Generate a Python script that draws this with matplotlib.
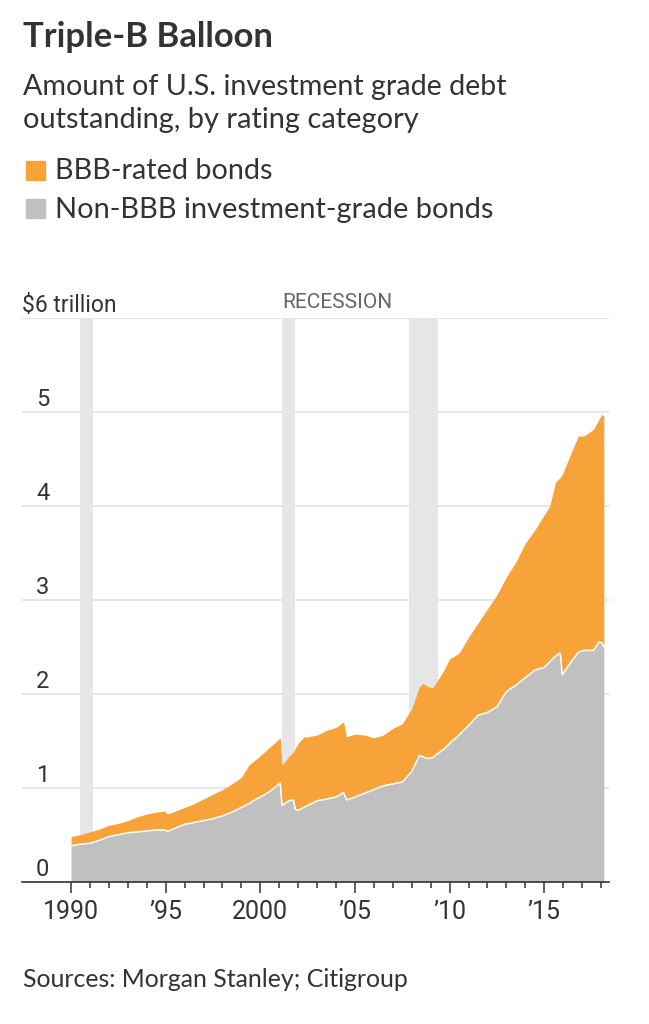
import matplotlib
matplotlib.use("Agg")
import matplotlib.pyplot as plt
from matplotlib import font_manager as fm
from matplotlib.patches import Rectangle
from matplotlib.transforms import offset_copy
import numpy as np

# ---------------- data ----------------
years = [1990.0, 1990.5, 1991.0, 1991.5, 1992.0, 1992.5, 1993.0, 1993.5, 1994.0, 1994.5,
         1994.95, 1995.1, 1995.5, 1996.0, 1996.5, 1997.0, 1997.5, 1998.0, 1998.5, 1999.0,
         1999.4, 1999.7, 2000.0, 2000.5, 2001.05, 2001.15, 2001.5, 2001.75, 2001.85, 2002.0,
         2002.3, 2002.5, 2003.0, 2003.5, 2004.0, 2004.4, 2004.55, 2005.0, 2005.5, 2006.0,
         2006.5, 2007.0, 2007.5, 2008.0, 2008.4, 2008.6, 2008.8, 2009.1, 2009.3, 2009.7,
         2010.0, 2010.5, 2011.0, 2011.5, 2012.0, 2012.5, 2013.0, 2013.5, 2014.0, 2014.5,
         2015.0, 2015.3, 2015.6, 2015.85, 2015.95, 2016.5, 2016.8, 2017.1, 2017.6, 2017.9,
         2018.05, 2018.15]
non_bbb = [0.38, 0.40, 0.41, 0.44, 0.48, 0.50, 0.52, 0.53, 0.54, 0.55,
           0.55, 0.535, 0.57, 0.61, 0.63, 0.65, 0.67, 0.70, 0.74, 0.79,
           0.83, 0.87, 0.90, 0.96, 1.05, 0.81, 0.86, 0.87, 0.77, 0.76,
           0.79, 0.81, 0.86, 0.88, 0.90, 0.95, 0.87, 0.90, 0.94, 0.98,
           1.02, 1.04, 1.06, 1.17, 1.34, 1.33, 1.31, 1.32, 1.35, 1.41,
           1.47, 1.56, 1.66, 1.77, 1.80, 1.86, 2.02, 2.09, 2.17, 2.25,
           2.28, 2.34, 2.40, 2.43, 2.20, 2.36, 2.44, 2.46, 2.46, 2.55,
           2.54, 2.50]
total_ig = [0.48, 0.50, 0.53, 0.56, 0.60, 0.62, 0.65, 0.69, 0.72, 0.74,
            0.75, 0.72, 0.75, 0.79, 0.83, 0.88, 0.93, 0.98, 1.04, 1.11,
            1.24, 1.29, 1.34, 1.43, 1.53, 1.24, 1.33, 1.38, 1.42, 1.47,
            1.54, 1.54, 1.56, 1.61, 1.64, 1.70, 1.54, 1.57, 1.56, 1.53,
            1.56, 1.63, 1.68, 1.84, 2.07, 2.11, 2.08, 2.06, 2.12, 2.25,
            2.37, 2.43, 2.60, 2.75, 2.90, 3.05, 3.24, 3.40, 3.60, 3.74,
            3.90, 4.00, 4.25, 4.30, 4.33, 4.60, 4.74, 4.74, 4.81, 4.92,
            4.97, 4.95]
bbb = [t - n for t, n in zip(total_ig, non_bbb)]

recessions = [(1990.45, 1991.15), (2001.14, 2001.84), (2007.86, 2009.38)]
y_ticks = [0, 1, 2, 3, 4, 5]
y_top = 6
x_major = [1990, 1995, 2000, 2005, 2010, 2015]
x_major_labels = ["1990", "\u201995", "2000", "\u201905", "\u201910", "\u201915"]
x_minor = list(range(1990, 2019))

title = "Triple-B Balloon"
subtitle = ["Amount of U.S. investment grade debt", "outstanding, by rating category"]
legend_labels = ["BBB-rated bonds", "Non-BBB investment-grade bonds"]
source = "Sources: Morgan Stanley; Citigroup"

# ---------------- styling ----------------
ORANGE = "#f8a23a"
GRAY = "#c0c0c0"
REC = "#e6e6e6"
GRID = "#e3e3e3"
TXT = "#333333"

avail = {f.name for f in fm.fontManager.ttflist}
def pick(*names):
    for n in names:
        if n in avail:
            return n
    return "DejaVu Sans"

MAIN = pick("Lato", "Noto Sans", "Open Sans", "DejaVu Sans")
MAINB = MAIN
NARROW = pick("Liberation Sans Narrow", "Roboto", "DejaVu Sans")

W, H = 649, 1024
fig = plt.figure(figsize=(W / 100, H / 100), dpi=100)
renderer = fig.canvas.get_renderer()

def fx(x):
    return x / W

def fy(y):
    return 1 - y / H

def put(text, x, y, size, width=None, **kw):
    t = fig.text(fx(x), fy(y), text, fontsize=size, va="baseline", ha="left", **kw)
    if width is not None:
        w = t.get_window_extent(renderer).width
        t.set_fontsize(size * width / w)
    return t

# axes
ax_l, ax_r, ax_b, ax_t = 21.7, 609.0, 881.7, 317.5
ax = fig.add_axes([fx(ax_l), fy(ax_b), fx(ax_r) - fx(ax_l), fy(ax_t) - fy(ax_b)])
x0 = 1990 - (71 - ax_l) / 18.92
x1 = 2018 + (ax_r - 601) / 18.92
ax.set_xlim(x0, x1)
ax.set_ylim(0, y_top)

for s in ["left", "right", "top"]:
    ax.spines[s].set_visible(False)
ax.spines["bottom"].set_color(TXT)
ax.spines["bottom"].set_linewidth(1.2)
ax.spines["bottom"].set_zorder(6)

ax.set_yticks(y_ticks + [y_top])
ax.set_yticklabels([])
ax.tick_params(axis="y", length=0)
ax.yaxis.grid(True, color=GRID, linewidth=1.2, zorder=0)
ax.set_axisbelow(True)

for a, b in recessions:
    ax.axvspan(a, b, color=REC, zorder=1, linewidth=0)

ax.fill_between(years, 0, non_bbb, color=GRAY, linewidth=0, zorder=2)
ax.fill_between(years, non_bbb, np.array(non_bbb) + np.array(bbb), color=ORANGE,
                linewidth=0, zorder=2)
ax.plot(years, non_bbb, color="white", linewidth=1.1, zorder=3)

ax.set_xticks(x_major)
ax.set_xticklabels(x_major_labels)
ax.set_xticks(x_minor, minor=True)
ax.tick_params(axis="x", which="major", length=8, width=1.1, color=TXT, pad=5,
               labelsize=18, labelcolor=TXT)
ax.tick_params(axis="x", which="minor", length=4.3, width=1.1, color=TXT)
for lab in ax.get_xticklabels():
    lab.set_fontfamily(NARROW)

# y labels: digits above gridlines
ylab_tr = offset_copy(ax.get_yaxis_transform(), fig=fig, x=0, y=6, units="dots")
xfrac = (36 - ax_l) / (ax_r - ax_l)
for v in y_ticks:
    ax.text(xfrac, v, str(v), transform=ylab_tr, fontsize=17, family=NARROW,
            color=TXT, ha="left", va="baseline")
ax.text(0.0, y_top, "$6 trillion", transform=ylab_tr, fontsize=16.5, family=NARROW,
        color=TXT, ha="left", va="baseline")

rec_tr = offset_copy(ax.get_xaxis_transform(), fig=fig, x=0, y=9, units="dots")
tr_ = ax.text(recessions[1][0], 1.0, "RECESSION", transform=rec_tr, fontsize=17,
              family=NARROW, color="#666666", ha="left", va="baseline")
wr = tr_.get_window_extent(renderer).width
tr_.set_fontsize(17 * 110 / wr)

# header texts
put(title, 23, 46.7, 24, width=250, family=MAINB, fontweight="bold", color=TXT)
put(subtitle[0], 23, 95, 18, width=482, family=MAIN, color=TXT)
put(subtitle[1], 23, 127.7, 18, width=395, family=MAIN, color=TXT)

# legend
for i, (lab, col) in enumerate(zip(legend_labels, [ORANGE, GRAY])):
    ytop = [160.7, 199.0][i]
    fig.patches.append(Rectangle((fx(26), fy(ytop + 19)), 19 / W, 19 / H,
                                 transform=fig.transFigure, color=col, figure=fig))
    put(lab, 55, [179, 217.7][i], 18, width=[217, 437][i], family=MAIN, color=TXT)

put(source, 23, 986.7, 17, width=385, family=MAIN, color=TXT)

fig.savefig("out.png", dpi=100, facecolor="white")
